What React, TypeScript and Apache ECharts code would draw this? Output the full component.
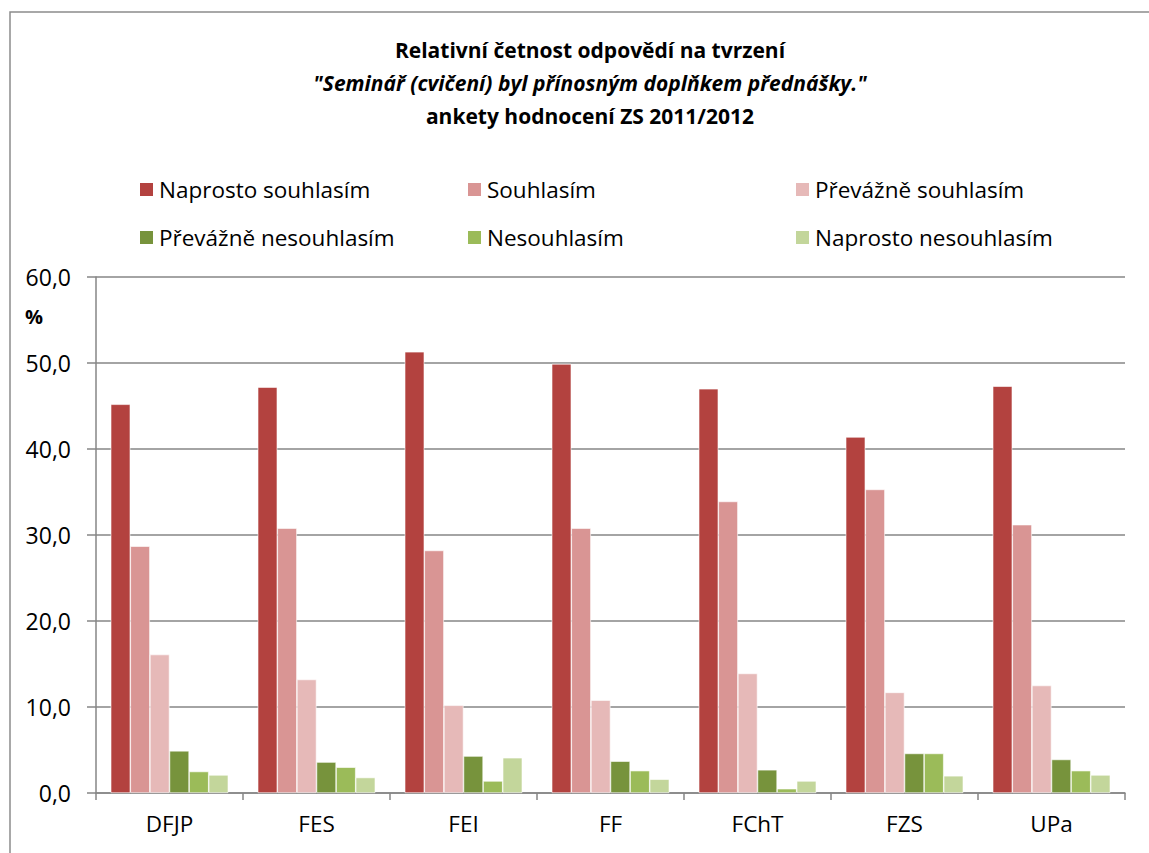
import React, { useEffect, useRef } from "react";
import * as echarts from "echarts";

const categories = ["DFJP", "FES", "FEI", "FF", "FChT", "FZS", "UPa"];
const seriesNames = [
  "Naprosto souhlasím",
  "Souhlasím",
  "Převážně souhlasím",
  "Převážně nesouhlasím",
  "Nesouhlasím",
  "Naprosto nesouhlasím",
];
const naprostoSouhlasim = [45.2, 47.2, 51.3, 49.9, 47.0, 41.4, 47.3];
const souhlasim = [28.7, 30.8, 28.2, 30.8, 33.9, 35.3, 31.2];
const prevazneSouhlasim = [16.1, 13.2, 10.2, 10.8, 13.9, 11.7, 12.5];
const prevazneNesouhlasim = [4.9, 3.6, 4.3, 3.7, 2.7, 4.6, 3.9];
const nesouhlasim = [2.5, 3.0, 1.4, 2.6, 0.5, 4.6, 2.6];
const naprostoNesouhlasim = [2.1, 1.8, 4.1, 1.6, 1.4, 2.0, 2.1];
const yTicks = [0, 10, 20, 30, 40, 50, 60];

const seriesData = [
  naprostoSouhlasim,
  souhlasim,
  prevazneSouhlasim,
  prevazneNesouhlasim,
  nesouhlasim,
  naprostoNesouhlasim,
];
const colors = ["#B3423F", "#D99594", "#E6B9B8", "#77933C", "#9BBB59", "#C3D69B"];

const FONT = "'Open Sans', 'Noto Sans', sans-serif";

export default function App() {
  const ref = useRef<HTMLDivElement>(null);
  useEffect(() => {
    document.body.style.margin = "0";
    const chart = echarts.init(ref.current!, undefined, { renderer: "svg" });
    const legendPos = [
      [138, 178],
      [466, 178],
      [794, 178],
      [138, 226],
      [466, 226],
      [794, 226],
    ];
    chart.setOption({
      animation: false,
      backgroundColor: "#fff",
      color: colors,
      title: {
        left: 585,
        textAlign: "center",
        top: 28,
        text:
          "{a|Relativní četnost odpovědí na tvrzení}\n{b|\"Seminář (cvičení) byl přínosným doplňkem přednášky.\"}\n{a|ankety hodnocení ZS 2011/2012}",
        textStyle: {
          rich: {
            a: { fontFamily: FONT, fontSize: 21, fontWeight: "bold", color: "#000", lineHeight: 33 },
            b: { fontFamily: FONT, fontSize: 21, fontWeight: "bold", fontStyle: "italic", color: "#000", lineHeight: 33 },
          },
        },
      },
      legend: seriesNames.map((n, i) => ({
        data: [n],
        left: legendPos[i][0],
        top: legendPos[i][1],
        padding: 0,
        itemWidth: 15,
        itemHeight: 15,
        itemGap: 8,
        icon: "rect",
        textStyle: { fontFamily: FONT, fontSize: 22.5, color: "#000" },
        selectedMode: false,
      })),
      graphic: [
        {
          type: "rect",
          shape: { x: 10, y: 12, width: 1170, height: 870 },
          style: { fill: "none", stroke: "#8c8c8c", lineWidth: 1.5 },
          silent: true,
        },
        {
          type: "text",
          left: 25,
          top: 306,
          style: { text: "%", fontFamily: FONT, fontSize: 20, fontWeight: "bold", fill: "#000" },
        },
      ],
      grid: { left: 96, right: 24, top: 277, bottom: 60, containLabel: false },
      xAxis: {
        type: "category",
        data: categories,
        axisLine: { lineStyle: { color: "#868686", width: 1.5 } },
        axisTick: { show: true, length: 7, lineStyle: { color: "#868686", width: 1.5 } },
        axisLabel: { fontFamily: FONT, fontSize: 22.5, color: "#000", margin: 19 },
      },
      yAxis: {
        type: "value",
        min: yTicks[0],
        max: yTicks[yTicks.length - 1],
        interval: 10,
        axisLine: { show: true, lineStyle: { color: "#868686", width: 1.5 } },
        axisTick: { show: true, length: 9, lineStyle: { color: "#868686", width: 1.5 } },
        splitLine: { lineStyle: { color: "#868686", width: 1.5 } },
        axisLabel: {
          fontFamily: FONT,
          fontSize: 23,
          color: "#000",
          margin: 25,
          formatter: (v: number) => v.toFixed(1).replace(".", ","),
        },
      },
      series: seriesNames.map((n, i) => ({
        name: n,
        type: "bar",
        data: seriesData[i],
        barGap: "0%",
        barCategoryGap: "20%",
        itemStyle: { color: colors[i], borderColor: "#fff", borderWidth: 0.6 },
      })),
    });
    return () => chart.dispose();
  }, []);
  return <div ref={ref} style={{ width: 1149, height: 853 }} />;
}
